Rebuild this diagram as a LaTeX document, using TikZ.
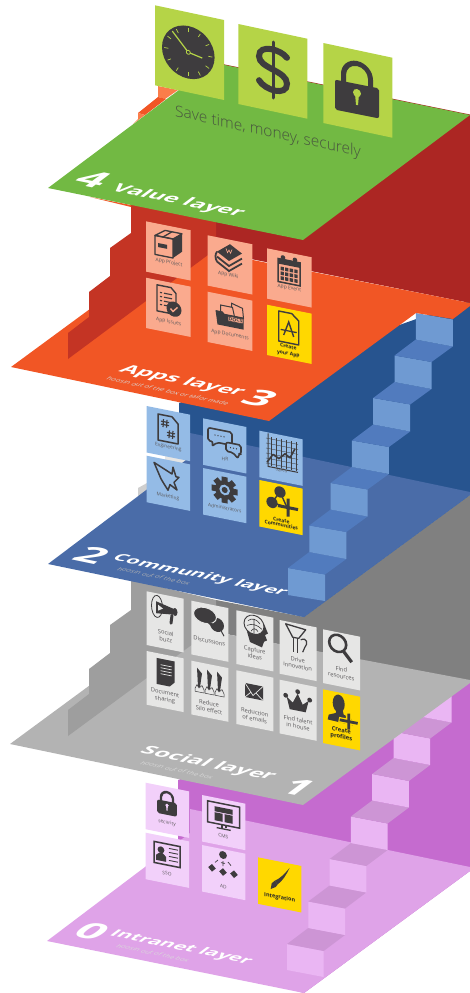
\documentclass[tikz,border=0pt]{standalone}
\usepackage{fontspec}
\setmainfont{Open Sans}
\newfontfamily\lightfont{Open Sans Light}
\definecolor{ink}{HTML}{3E3C3E}
\definecolor{yellowtile}{HTML}{FFD800}
\definecolor{greenfloor}{HTML}{72B943}
\definecolor{greentile}{HTML}{B5D447}
\definecolor{redwall}{HTML}{AC2623}
\definecolor{redmid}{HTML}{C43424}
\definecolor{orangefloor}{HTML}{F15625}
\definecolor{orangelight}{HTML}{FB7D4A}
\definecolor{orangetile}{HTML}{FAAA8E}
\definecolor{bluewall}{HTML}{27548F}
\definecolor{bluefloor}{HTML}{4A6CA8}
\definecolor{bluetile}{HTML}{94BBE6}
\definecolor{blueriser}{HTML}{6F9AD2}
\definecolor{bluetread}{HTML}{517BBE}
\definecolor{graywall}{HTML}{808080}
\definecolor{graymid}{HTML}{9E9E9E}
\definecolor{grayfloor}{HTML}{B3B3B3}
\definecolor{graytile}{HTML}{E6E6E5}
\definecolor{pinkwall}{HTML}{C56BCF}
\definecolor{pinkfloor}{HTML}{DFA3E8}
\definecolor{pinktile}{HTML}{F2D0FA}
\definecolor{pinkriser}{HTML}{EAB6F3}
\definecolor{pinktread}{HTML}{CD95D5}
\colorlet{hole}{greentile}
\begin{document}
\begin{tikzpicture}[x=1pt,y=-1pt,
  tilt/.style={yslant=-0.2},
  tile/.style={fill=#1, anchor=north west, inner sep=0pt, outer sep=0pt,
               yslant=-0.2, transform shape},
  bigtile/.style={tile=greentile, yslant=-0.013, minimum width=69pt, minimum height=80pt},
  apptile/.style={tile=#1, minimum width=44.7pt, minimum height=50.3pt},
  comtile/.style={tile=#1, minimum width=43.3pt, minimum height=46.5pt},
  soctile/.style={tile=#1, minimum width=37pt, minimum height=53.7pt},
  tiletext/.style={yslant=-0.2, transform shape, inner sep=0pt, align=center, text=ink!85,
                   font=\fontsize{#1}{6.8}\selectfont},
  boldtext/.style={tiletext=#1, font=\fontsize{#1}{6.8}\selectfont\bfseries, text=black!85},
  floortext/.style={cm={1.4,-0.29,0.8,0.6,(0,0)}, transform shape, inner sep=0pt, text=white,
                    font=\fontsize{#1}{#1}\selectfont\bfseries},
  floorsub/.style={cm={1.1,-0.23,0.8,0.6,(0,0)}, transform shape, inner sep=0pt, text=white!#1!black,
                   font=\fontsize{6.5}{6.5}\selectfont},
  clockicon/.pic={
    \fill[ink] (0,0) circle (26.3);
    \foreach \a in {0,30,...,330} \draw[hole, line width=.7] (\a:20) -- (\a:24);
    \draw[hole, line width=1.2, line join=round] (-16,-18) -- (0,0) -- (14,3);
    \draw[hole, fill=ink, line width=.8] (0,0) circle (2);},
  dollaricon/.pic={
    \draw[ink, line width=6, line cap=round] (14,-15) .. controls (8,-22) and (-14,-24) .. (-14,-11)
      .. controls (-14,1) and (14,-2) .. (14,11) .. controls (14,24) and (-8,22) .. (-14,13);
    \draw[ink, line width=3, line cap=round] (0,-28) -- (0,28);},
  lockicon/.pic={
    \fill[ink, rounded corners=2] (-22,-6) rectangle (22,24);
    \fill[ink] (-16,-5) -- (-16,-13) arc (180:360:16) -- (16,-5) -- (11,-5) -- (11,-13) arc (360:180:11)
      -- (-11,-5) -- cycle;
    \fill[hole] (0,3) circle (4);
    \fill[hole] (-2,4) -- (2,4) -- (1,15) -- (-1,15) -- cycle;},
  boxicon/.pic={
    \draw[ink, line width=1.3, line join=round] (-13,-7) -- (-3,-14) -- (14,-14) -- (5,-7) -- cycle;
    \draw[ink, line width=1.3, line join=round] (-13,-7) rectangle (5,12);
    \fill[ink] (5,-7) -- (14,-14) -- (14,4) -- (5,12) -- cycle;
    \fill[ink] (-10,0) rectangle (-1,4);
    \draw[ink, line width=1.3] (-5,-7) -- (4,-14);},
  booksicon/.pic={
    \fill[ink, line join=round] (-12,-3) -- (1,-13) -- (13,-6) -- (0,4) -- cycle;
    \draw[hole, line width=.6] (-3,-8) -- (-1.5,-4) -- (0,-7) -- (1.5,-4) -- (3,-8);
    \foreach \k in {5,10} \draw[ink, line width=1.8] (-12,-3+\k) -- (0,4+\k) -- (13,-6+\k);
    \draw[ink, line width=1.8] (-12,-3) .. controls (-14,0) and (-14,4) .. (-12,7);},
  calendaricon/.pic={
    \draw[ink, line width=1.5] (-11,-10) rectangle (11,13);
    \fill[ink] (-11,-10) rectangle (11,-5);
    \fill[ink] (-6,-12) circle (2.3) (6,-12) circle (2.3);
    \foreach \i in {0,1,2,3} \foreach \j in {0,1,2}
      \fill[ink] (-8.5+\i*4.6,-2.5+\j*4.8) rectangle ++(3.3,3.5);},
  issueicon/.pic={
    \draw[ink, line width=1.4, line join=round] (-11,-13) -- (3,-13) -- (8,-8) -- (8,13) -- (-11,13) -- cycle;
    \foreach \j in {-6,-2,2,6} {\draw[ink, line width=1.1] (-8,\j) -- (-6,\j); \draw[ink, line width=1.1] (-4,\j) -- (4,\j);}
    \fill[ink] (6,8) circle (7.5);
    \draw[hole, line width=1.4] (2.5,8) -- (5,10.5) -- (9.5,5.5);},
  foldericon/.pic={
    \draw[ink, line width=1, fill=hole] (1,-13) -- (12,-10) -- (13,0) -- (1,0) -- cycle;
    \draw[ink, line width=1, fill=hole] (-10,-9) -- (2,-9) -- (4,0) -- (-10,0) -- cycle;
    \fill[ink] (-15,-3) -- (-8,-3) -- (-6,-1) -- (13,-1) -- (13,11) -- (-13,11) -- cycle;
    \node[draw=ink, fill=hole, line width=.6, inner sep=.6pt, text=ink, yslant=0, transform shape,
          font=\fontsize{5}{5}\selectfont\bfseries] (docslabel) at (5,3) {DOCS};},
  createappicon/.pic={
    \draw[ink, line width=1.4, line join=round] (-10,-15) -- (3,-15) -- (10,-9) -- (10,15) -- (-10,15) -- cycle;
    \draw[ink, line width=1.4] (-5,8) -- (0,-6) -- (5,8);
    \draw[ink, line width=1.3] (-8,3) -- (8,3);},
  hashicon/.pic={
    \draw[ink, line width=1.5, line join=round] (-10,-13) -- (4,-13) -- (10,-7) -- (10,13) -- (-10,13) -- cycle;
    \foreach \p/\q in {-3/-5, 3/5}
      \draw[ink, line width=1.1, shift={(\p,\q)}] (-1.5,-4) -- (-2,4) (2,-4) -- (1.5,4) (-4,-1.5) -- (4,-1.5) (-4,1.5) -- (4,1.5);},
  bubblesicon/.pic={
    \draw[ink, line width=1.6, rounded corners=2, line join=round] (-17,-9) -- (7,-9) -- (7,4) -- (-8,4) -- (-13,9) -- (-12,4) -- (-17,4) -- cycle;
    \draw[ink, fill=hole, line width=1.6, rounded corners=2, line join=round] (1,2) -- (16,2) -- (16,11) -- (14,11) -- (13,16) -- (8,11) -- (1,11) -- cycle;
    \foreach \i in {0,1,2,3} \fill[ink] (-10+\i*3,-3) circle (.7);
    \foreach \i in {0,1,2} \fill[ink] (5.5+\i*3,6.5) circle (.7);},
  charticon/.pic={
    \foreach \i in {-10,-5,...,15} \draw[ink, line width=.35] (\i,-14) -- (\i,15);
    \foreach \j in {-12,-7,...,13} \draw[ink, line width=.35] (-15,\j) -- (17,\j);
    \draw[ink, line width=1] (-13,-17) -- (-13,16) -- (17,16);
    \draw[ink, line width=1.6, line join=round] (-14,12) -- (-8,3) -- (-2,6) -- (4,0) -- (9,3) -- (14,-7);},
  bursticon/.pic={
    \draw[ink, line width=1.5, line join=round] (-13,-12) -- (5,-4) -- (6,-11) -- (9,-2) -- (12,-2) -- (7,4) -- (10,11) -- (3,7) -- (1,13) -- (-4,6) -- (-6,3) -- cycle;},
  gearicon/.pic={
    \foreach \a in {0,45,...,315} \fill[ink, rotate=\a] (-3,-13) rectangle (3,-8);
    \fill[ink] (0,0) circle (9.5);
    \fill[hole] (0,0) circle (5.3);
    \fill[ink] (0,0) circle (3);},
  networkicon/.pic={
    \draw[ink, line width=1.4] (0,-11) -- (-8,1) -- (7,3) -- cycle;
    \fill[ink] (0,-11) circle (5.6) (-8,1) circle (5.6);
    \draw[ink, line width=3] (-2,3) -- (18,3) (8,-6) -- (8,12);},
  megaphoneicon/.pic={
    \draw[ink, line width=.8] (-8,-2) ellipse (5.5 and 11);
    \fill[ink] (-9,-7) -- (8,-3) -- (8,3) -- (-9,5) -- cycle;
    \fill[ink] (10,0) ellipse (2.5 and 4);
    \draw[ink, line width=3, line cap=round] (7,4) -- (6,12);
    \fill[graytile] (-7,-4) -- (-2,-1) -- (-7,2) -- cycle;},
  talkicon/.pic={
    \fill[ink] (9,3) ellipse (7 and 7);
    \draw[ink, line width=1] (13,8) -- (16,13);
    \draw[graytile, line width=1, fill=ink] (-3,-4) ellipse (11.5 and 8);
    \fill[ink] (-2,2) -- (4,2) -- (9,9) -- cycle;},
  headicon/.pic={
    \fill[ink] (-8,3) -- (-5,13) -- (7,16) -- (9,10) -- (12,8) -- (10,3) -- (13,1) -- (9,-8) -- cycle;
    \draw[ink, fill=graytile, line width=.9] (-1,-5) ellipse (10 and 9.5);
    \draw[ink, line width=.6] (-7,-8) .. controls (-3,-12) and (2,-11) .. (5,-7) (-8,-3) .. controls (-3,-6) and (2,-6) .. (7,-2) (-4,2) .. controls (-2,-2) and (1,-2) .. (3,1) (-1,-11) -- (-1,5);},
  funnelicon/.pic={
    \draw[ink, line width=1.3, line join=round] (-11,-12) -- (9,-10) -- (2,0) -- (-4,0) -- cycle;
    \draw[ink, line width=1.4] (-3,0) -- (-3,15) (1,0) -- (1,15);
    \draw[ink, line width=1.2] (4,1) .. controls (10,-3) and (12,3) .. (8,8) -- (6,13);},
  findicon/.pic={
    \draw[ink, line width=2.6] (-3,-4) circle (8.5);
    \draw[ink, line width=3.2] (3,3) -- (11,12);},
  docicon/.pic={
    \fill[ink] (-9,-13) -- (9,-13) -- (9,8) -- (4,13) -- (-9,13) -- cycle;
    \foreach \j in {-7,-4,-1,2} \draw[hole, line width=.7] (-5,\j) -- (6,\j);},
  siloicon/.pic={
    \foreach \i in {-12,-2,8} {
      \fill[ink] (\i,-13) -- (\i+5,-8) -- (\i+3,6) -- (\i+1,6) -- cycle;
      \draw[ink, line width=.5] (\i-2,8) -- (\i,4) -- (\i+2,7) -- (\i+5,4) -- (\i+7,8) -- (\i+7,11) -- (\i-2,11) -- cycle;}},
  envelopeicon/.pic={
    \fill[ink] (-9,-7) -- (9,-7) -- (9,7) -- (-9,7) -- cycle;
    \draw[hole, line width=.7] (-9,-7) -- (-1,4) -- (9,-7) (-9,7) -- (-3,1) (9,7) -- (2,1);},
  crownicon/.pic={
    \fill[ink] (-11,-3) -- (-5,2) -- (0,-8) -- (5,2) -- (11,-3) -- (8,9) -- (-8,9) -- cycle;
    \fill[ink] (-12,-4) circle (2.4) (0,-10) circle (2.4) (12,-4) circle (2.4);},
  profileicon/.pic={
    \fill[ink] (-2,-6) ellipse (6 and 9);
    \fill[ink] (-4,0) -- (2,0) -- (3,4) -- (11,7) -- (12,13) -- (-13,12) -- (-12,7) -- (-5,4) -- cycle;
    \draw[yellowtile, line width=5.5] (-2,10) -- (18,10) (8,1) -- (8,19);
    \draw[ink, line width=2.8] (-1,10) -- (17,10) (8,2) -- (8,18);},
  monitoricon/.pic={
    \draw[ink, line width=1.5] (-16,-13) rectangle (16,8);
    \draw[ink, line width=1.6] (-2,8) -- (-2,11) (2,8) -- (2,11);
    \draw[ink, line width=1.3] (-7,12) -- (7,12);
    \fill[ink] (-9,-9) rectangle (9,-4) (-9,-3) rectangle (-1,5) (1,-3) rectangle (9,5);},
  cardicon/.pic={
    \draw[ink, line width=1.5] (-13,-10) rectangle (13,11);
    \fill[ink] (-6,-3) circle (3.4);
    \fill[ink] (-7.5,0) -- (-4.5,0) -- (-1,3) -- (-1,8) -- (-11,8) -- (-11,3) -- cycle;
    \foreach \j in {-6,-2,2,6} \draw[ink, line width=.9] (2,\j) -- (11,\j);},
  orgicon/.pic={
    \fill[ink] (0,-10) circle (3.9);
    \foreach \p/\q in {-11/5, 0/7, 11/7} \fill[ink] (\p-3.8,\q) -- (\p,\q-3.8) -- (\p+3.8,\q) -- (\p,\q+3.8) -- cycle;
    \draw[ink, line width=.7] (-5,-4) -- (-8,-1) (0,-4) -- (0,1) (-2,-2) -- (2,-2) (5,-4) -- (8,-1);},
  brushicon/.pic={
    \fill[ink] (9,-12) .. controls (5,-3) and (2,2) .. (-3,7) -- (-6,4) .. controls (-1,1) and (4,-5) .. (9,-12);
    \fill[ink] (-3,7) -- (-6,4) -- (-9,7) -- (-10,13) -- (-5,10) -- cycle;}
]
\useasboundingbox (0,0) rectangle (470,993);
\fill[pinkwall] (178,780) -- (470,680) -- (470,871) -- (304,993) -- (178,960) -- cycle;
\fill[pinkfloor] (47,941) -- (190,833) -- (190,809) -- (470,867) -- (470,871) -- (304,993) -- cycle;
\fill[pinkriser] (287,944) -- (323.7,951) -- (323.7,977) -- (287,970) -- cycle;
\fill[pinktread] (287,944) -- (323.7,951) -- (345,935) -- (308.3,928) -- cycle;
\fill[pinkriser] (308.3,901.5) -- (345,908.5) -- (345,935) -- (308.3,928) -- cycle;
\fill[pinktread] (308.3,901.5) -- (345,908.5) -- (366.3,892.5) -- (329.6,885.5) -- cycle;
\fill[pinkriser] (329.6,859) -- (366.3,866) -- (366.3,892.5) -- (329.6,885.5) -- cycle;
\fill[pinktread] (329.6,859) -- (366.3,866) -- (387.6,850) -- (350.9,843) -- cycle;
\fill[pinkriser] (350.9,816.5) -- (387.6,823.5) -- (387.6,850) -- (350.9,843) -- cycle;
\fill[pinktread] (350.9,816.5) -- (387.6,823.5) -- (408.9,807.5) -- (372.2,800.5) -- cycle;
\fill[pinkriser] (372.2,774) -- (408.9,781) -- (408.9,807.5) -- (372.2,800.5) -- cycle;
\fill[pinktread] (372.2,774) -- (408.9,781) -- (430.2,765) -- (393.5,758) -- cycle;
\fill[pinkriser] (393.5,731.5) -- (430.2,738.5) -- (430.2,765) -- (393.5,758) -- cycle;
\fill[pinktread] (393.5,731.5) -- (430.2,738.5) -- (451.5,722.5) -- (414.8,715.5) -- cycle;
\fill[pinkriser] (414.8,689) -- (451.5,696) -- (451.5,722.5) -- (414.8,715.5) -- cycle;
\colorlet{hole}{pinktile}
\node[comtile=pinktile] (securitytile) at (145.7,782.7) {};
\node[comtile=pinktile] (cmstile) at (202,795) {};
\node[comtile=pinktile] (ssotile) at (145.7,832.7) {};
\node[comtile=pinktile] (adtile) at (202,845) {};
\node[comtile=yellowtile] (integrationtile) at (258,857.3) {};
\pic[tilt, scale=.45] (securitypic) at (167,804) {lockicon};
\pic[tilt] (cmspic) at (223.7,817) {monitoricon};
\pic[tilt] (ssopic) at (167,854) {cardicon};
\pic[tilt] (adpic) at (223,865) {orgicon};
\pic[tilt] (brushpic) at (280.7,878) {brushicon};
\node[tiletext=4.8] (securitylabel) at (167,823) {security};
\node[tiletext=4.8] (cmslabel) at (223.3,836) {CMS};
\node[tiletext=4.8] (ssolabel) at (167,873.3) {SSO};
\node[tiletext=4.8] (adlabel) at (223.3,886.7) {AD};
\node[boldtext=5.5] (integrationlabel) at (279.7,897.7) {Integration};
\node[floortext=32] (intranetnum) at (92,931) {0};
\node[floortext=14.3] (intranettitle) at (181,947.5) {Intranet layer};
\node[floorsub=85] (intranetsub) at (153,953) {hoosin out of the box};
\fill[graywall] (216,600) -- (304,617) -- (470,495) -- (470,681) -- (216,632) -- cycle;
\fill[grayfloor] (10,744) -- (173,624) -- (470,680) -- (470,683) -- (303,805) -- cycle;
\fill[graymid] (131,580) -- (131,610) -- (110,625) -- (110,653) -- (89,669) -- (89,694) -- (68,710) -- (68,736) -- (216,627) -- (216,600) -- cycle;
\colorlet{hole}{graytile}
\node[soctile=graytile] (buzztile) at (146.7,591.3) {};
\node[soctile=graytile] (discussionstile) at (191.3,600.7) {};
\node[soctile=graytile] (capturetile) at (236.3,610.3) {};
\node[soctile=graytile] (drivetile) at (279.7,620) {};
\node[soctile=graytile] (findtile) at (323,629.3) {};
\node[soctile=graytile] (sharingtile) at (146.7,651) {};
\node[soctile=graytile] (silotile) at (191.3,660.7) {};
\node[soctile=graytile] (emailstile) at (236.3,670.3) {};
\node[soctile=graytile] (talenttile) at (279.7,679.7) {};
\node[soctile=yellowtile] (profilestile) at (323,689.3) {};
\pic[tilt] (buzzpic) at (165,610) {megaphoneicon};
\pic[tilt] (discussionspic) at (208,620) {talkicon};
\pic[tilt] (capturepic) at (255,630) {headicon};
\pic[tilt] (drivepic) at (296.7,638) {funnelicon};
\pic[tilt] (findpic) at (340.7,648) {findicon};
\pic[tilt] (sharingpic) at (165.7,672.7) {docicon};
\pic[tilt] (silopic) at (209,683) {siloicon};
\pic[tilt] (emailspic) at (254,691.7) {envelopeicon};
\pic[tilt] (talentpic) at (297.7,701.7) {crownicon};
\pic[tilt] (profilespic) at (340.7,710) {profileicon};
\node[tiletext=5.8] (buzzlabel) at (165.7,636) {Social\\buzz};
\node[tiletext=5.8] (discussionslabel) at (209.3,641) {Discussions};
\node[tiletext=5.8] (capturelabel) at (254.7,653.3) {Capture\\ideas};
\node[tiletext=5.8] (drivelabel) at (297.7,663.3) {Drive\\innovation};
\node[tiletext=5.8] (findlabel) at (341.3,672.7) {Find\\resources};
\node[tiletext=5.8] (sharinglabel) at (165,696.7) {Document\\sharing};
\node[tiletext=5.8] (silolabel) at (209,706.7) {Reduce\\Silo effect};
\node[tiletext=5.8] (emailslabel) at (254.7,715.7) {Reduction\\of emails};
\node[tiletext=5.8] (talentlabel) at (298,723.3) {Find talent\\in house};
\node[boldtext=5.8] (profileslabel) at (341.3,734) {Create\\profiles};
\node[floortext=16.5] (socialtitle) at (208,764) {Social layer};
\node[floorsub=85] (socialsub) at (177,770) {hoosin out of the box};
\node[floortext=32] (socialnum) at (298,787) {1};
\fill[bluewall] (179,403) -- (470,300) -- (470,495) -- (304,617) -- (179,590) -- cycle;
\fill[graymid!50!white] (138,488) -- (147,483) -- (147,497) -- (138,497) -- cycle;
\fill[graytile] (165,450) -- (194,454) -- (185,470) -- (165,470) -- cycle;
\fill[bluefloor] (48,564) -- (190,457) -- (190,433) -- (470,492) -- (470,495) -- (304,617) -- cycle;
\fill[blueriser] (288,568) -- (325,574.5) -- (325,601) -- (288,595) -- cycle;
\fill[bluetread] (288,568) -- (325,574.5) -- (346.3,559) -- (309.3,552) -- cycle;
\fill[blueriser] (309.3,525.5) -- (346.3,532) -- (346.3,559) -- (309.3,552) -- cycle;
\fill[bluetread] (309.3,525.5) -- (346.3,532) -- (367.6,516.5) -- (330.6,509.5) -- cycle;
\fill[blueriser] (330.6,483) -- (367.6,489.5) -- (367.6,516.5) -- (330.6,509.5) -- cycle;
\fill[bluetread] (330.6,483) -- (367.6,489.5) -- (388.9,474) -- (351.9,467) -- cycle;
\fill[blueriser] (351.9,440.5) -- (388.9,447) -- (388.9,474) -- (351.9,467) -- cycle;
\fill[bluetread] (351.9,440.5) -- (388.9,447) -- (410.2,431.5) -- (373.2,424.5) -- cycle;
\fill[blueriser] (373.2,398) -- (410.2,404.5) -- (410.2,431.5) -- (373.2,424.5) -- cycle;
\fill[bluetread] (373.2,398) -- (410.2,404.5) -- (431.5,389) -- (394.5,382) -- cycle;
\fill[blueriser] (394.5,355.5) -- (431.5,362) -- (431.5,389) -- (394.5,382) -- cycle;
\fill[bluetread] (394.5,355.5) -- (431.5,362) -- (452.8,346.5) -- (415.8,339.5) -- cycle;
\fill[blueriser] (415.8,313) -- (452.8,319.5) -- (452.8,346.5) -- (415.8,339.5) -- cycle;
\colorlet{hole}{bluetile}
\node[comtile=bluetile] (engineeringtile) at (146.7,406) {};
\node[comtile=bluetile] (hrtile) at (203,418.3) {};
\node[comtile=bluetile] (salestile) at (259.3,430.7) {};
\node[comtile=bluetile] (marketingtile) at (146.7,455.7) {};
\node[comtile=bluetile] (adminstile) at (203,468) {};
\node[comtile=yellowtile] (communitiestile) at (259.3,480) {};
\pic[tilt] (engineeringpic) at (168,429) {hashicon};
\pic[tilt] (hrpic) at (225,440) {bubblesicon};
\pic[tilt] (salespic) at (281,453) {charticon};
\pic[tilt] (marketingpic) at (167,477) {bursticon};
\pic[tilt] (adminspic) at (224.7,490) {gearicon};
\pic[tilt] (communitiespic) at (280,503) {networkicon};
\node[tiletext=4.8] (engineeringlabel) at (168.3,447.3) {Engineering};
\node[tiletext=4.8] (hrlabel) at (225,459) {HR};
\node[tiletext=4.8] (saleslabel) at (281.3,470) {Sales};
\node[tiletext=4.8] (marketinglabel) at (168,496.7) {Marketing};
\node[tiletext=4.8] (adminslabel) at (224.7,508) {Administrators};
\node[boldtext=5] (communitieslabel) at (281.3,522.7) {Create\\[-2pt]Communities};
\node[floortext=32] (communitynum) at (92,555) {2};
\node[floortext=14.2] (communitytitle) at (200,575.5) {Community layer};
\node[floorsub=70] (communitysub) at (154,576) {hoosin out of the box};
\fill[redwall] (216,62.7) -- (470,114.5) -- (470,303) -- (216,252) -- cycle;
\fill[orangefloor] (11,367) -- (177,245) -- (470,303) -- (470,306) -- (453,319) -- (416,313) -- (269,421) -- cycle;
\fill[redmid] (131,200) -- (131,233) -- (110,248) -- (110,276) -- (89,292) -- (89,317) -- (68,333) -- (68,359) -- (216,249) -- (216,210) -- cycle;
\colorlet{hole}{orangetile}
\node[apptile=orangetile] (projecttile) at (146,221.3) {};
\node[apptile=orangetile] (wikitile) at (207.7,235.3) {};
\node[apptile=orangetile] (eventtile) at (267,248.3) {};
\node[apptile=orangetile] (issuestile) at (146,277.7) {};
\node[apptile=orangetile] (documentstile) at (207.7,291.7) {};
\node[apptile=yellowtile] (yourapptile) at (267,304.7) {};
\pic[tilt] (projectpic) at (168,245) {boxicon};
\pic[tilt] (wikipic) at (229,257) {booksicon};
\pic[tilt] (eventpic) at (289,270.7) {calendaricon};
\pic[tilt] (issuespic) at (168,300) {issueicon};
\pic[tilt] (documentspic) at (230.5,316) {foldericon};
\pic[tilt] (yourapppic) at (288.7,328) {createappicon};
\node[tiletext=5] (projectlabel) at (169,262.7) {App Project};
\node[tiletext=5] (wikilabel) at (228.3,275) {App Wiki};
\node[tiletext=5] (eventlabel) at (289.3,288.3) {App Event};
\node[tiletext=5] (issueslabel) at (168.7,322) {App Issues};
\node[tiletext=5] (documentslabel) at (230,335) {App Documents};
\node[boldtext=5] (yourapplabel) at (288.3,350.7) {Create\\your App};
\node[floortext=16.5] (appstitle) at (182,381) {Apps layer};
\node[floorsub=85] (appssub) at (168,391) {hoosin out of the box or tailor made};
\node[floortext=32] (appsnum) at (260,398) {3};
\fill[orangelight] (158,86) -- (178,90) -- (165,99) -- (158,97) -- cycle;
\fill[orangefloor] (138,113) -- (158,97) -- (166,99) -- (145,115) -- cycle;
\fill[orangelight] (138,113) -- (145,115) -- (133,124) -- (138,119) -- cycle;
\fill[orangefloor] (90,197) -- (131,205) -- (131,207) -- cycle;
\fill[greenfloor] (48,188) -- (215,63) -- (470,115) -- (303,240) -- cycle;
\colorlet{hole}{greentile}
\node[bigtile] (clocktile) at (155,5.3) {};
\node[bigtile] (dollartile) at (238.3,24) {};
\node[bigtile] (locktile) at (323.3,43) {};
\pic[tilt] (clockpic) at (188.3,52.3) {clockicon};
\pic[tilt] (dollarpic) at (273,70) {dollaricon};
\pic[tilt] (lockpic) at (357,90) {lockicon};
\node[tiletext=15.5, yslant=-0.02, text=ink!80!greenfloor, font=\lightfont\fontsize{15.5}{16}\selectfont] (savelabel) at (268,132.5) {Save time, money, securely};
\node[floortext=32] (valuenum) at (93,179) {4};
\node[floortext=16.5] (valuetitle) at (178,201) {Value layer};
\end{tikzpicture}
\end{document}
